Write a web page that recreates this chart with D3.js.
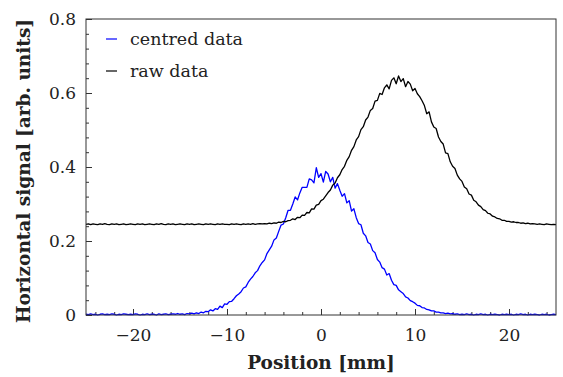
<!DOCTYPE html>
<html>
<head>
<meta charset="utf-8">
<script src="https://cdn.jsdelivr.net/npm/d3@7"></script>
<style>
  body { margin: 0; background: #fff; }
  svg { display: block; }
  .tick text { font-family: "DejaVu Serif", serif; font-size: 17px; fill: #222; }
  .tick line { stroke: #333; }
</style>
</head>
<body>
<div id="chart"></div>
<script>
// positions along the scan, every 0.25 mm
var positions = d3.range(-25, 25.001, 0.25);

// centred data (blue)
var centredSignal = [
  0.002,0.001,0.003,0.001,0.002,0.000,0.002,0.003,0.001,0.002,0.001,0.003,0.002,0.000,0.002,0.001,0.003,0.002,0.001,0.002,
  0.001,0.003,0.002,0.000,0.002,0.001,0.003,0.001,0.002,0.002,0.000,0.003,0.001,0.002,0.003,0.001,0.002,0.003,0.002,0.004,
  0.002,0.003,0.001,0.004,0.003,0.005,0.003,0.006,0.004,0.008,0.006,0.010,0.009,0.014,0.011,0.017,0.015,0.024,0.020,0.030,
  0.029,0.036,0.037,0.044,0.052,0.057,0.063,0.073,0.076,0.088,0.097,0.104,0.114,0.120,0.133,0.142,0.149,0.166,0.176,0.186,
  0.203,0.208,0.226,0.243,0.246,0.263,0.283,0.283,0.300,0.319,0.311,0.330,0.345,0.345,0.345,0.368,0.365,0.357,0.398,0.372,
  0.382,0.359,0.388,0.381,0.360,0.372,0.343,0.355,0.337,0.321,0.328,0.303,0.309,0.281,0.287,0.263,0.247,0.244,0.221,0.214,
  0.196,0.192,0.174,0.168,0.150,0.143,0.128,0.124,0.108,0.112,0.094,0.082,0.080,0.068,0.063,0.058,0.049,0.046,0.039,0.036,
  0.032,0.026,0.025,0.020,0.019,0.015,0.014,0.011,0.011,0.008,0.008,0.006,0.006,0.004,0.005,0.003,0.004,0.002,0.003,0.001,
  0.002,0.001,0.003,0.001,0.002,0.000,0.002,0.001,0.003,0.001,0.002,0.000,0.002,0.001,0.002,0.001,0.000,0.002,0.001,0.002,
  0.001,0.002,0.000,0.002,0.001,0.003,0.001,0.002,0.000,0.002,0.001,0.002,0.001,0.000,0.002,0.001,0.002,0.000,0.001,0.002,0.001
];

// raw data (black)
var rawSignal = [
  0.245,0.246,0.244,0.246,0.245,0.244,0.246,0.245,0.247,0.245,0.244,0.246,0.245,0.246,0.244,0.245,0.246,0.244,0.245,0.246,
  0.245,0.244,0.246,0.245,0.246,0.244,0.245,0.246,0.245,0.244,0.246,0.245,0.247,0.245,0.244,0.246,0.245,0.246,0.244,0.245,
  0.246,0.245,0.244,0.246,0.245,0.246,0.244,0.245,0.246,0.245,0.244,0.246,0.245,0.246,0.245,0.244,0.246,0.245,0.246,0.245,
  0.245,0.244,0.246,0.245,0.246,0.245,0.244,0.246,0.245,0.246,0.245,0.247,0.245,0.246,0.247,0.246,0.247,0.246,0.248,0.247,
  0.249,0.248,0.251,0.250,0.253,0.252,0.255,0.256,0.260,0.258,0.264,0.263,0.270,0.269,0.277,0.276,0.287,0.286,0.297,0.299,
  0.309,0.313,0.322,0.331,0.338,0.351,0.357,0.371,0.379,0.393,0.402,0.418,0.428,0.445,0.455,0.473,0.482,0.501,0.509,0.527,
  0.535,0.553,0.558,0.578,0.580,0.599,0.596,0.614,0.622,0.611,0.634,0.641,0.625,0.646,0.631,0.639,0.617,0.631,0.624,0.606,
  0.612,0.598,0.590,0.579,0.566,0.544,0.549,0.522,0.508,0.504,0.481,0.469,0.462,0.438,0.436,0.414,0.402,0.396,0.378,0.368,
  0.361,0.346,0.341,0.327,0.324,0.310,0.306,0.297,0.293,0.285,0.282,0.275,0.273,0.267,0.265,0.261,0.260,0.256,0.256,0.253,
  0.253,0.251,0.252,0.250,0.250,0.248,0.249,0.247,0.248,0.246,0.247,0.246,0.245,0.246,0.245,0.244,0.246,0.245,0.244,0.245,0.244
];

var seriesNames = ['centred data', 'raw data'];
var seriesColors = ['#0000ff', '#000000'];
var xTicks = [-20, -10, 0, 10, 20];
var yTicks = [0, 0.2, 0.4, 0.6, 0.8];

var svgWidth = 563, svgHeight = 377;
var margin = {top: 19, right: 7, bottom: 62, left: 86};
var width = svgWidth - margin.left - margin.right;
var height = svgHeight - margin.top - margin.bottom;

var svg = d3.select('#chart').append('svg')
    .attr('width', svgWidth).attr('height', svgHeight);

var g = svg.append('g')
    .attr('transform', 'translate(' + margin.left + ',' + margin.top + ')');

var x = d3.scaleLinear().domain([-25, 25]).range([0, width]);
var y = d3.scaleLinear().domain([0, 0.8]).range([height, 0]);

// minor ticks
g.append('g')
    .attr('transform', 'translate(0,' + height + ')')
    .call(d3.axisBottom(x).tickValues(d3.range(-24, 25, 2)).tickSize(-3).tickFormat(''))
    .call(function(a) { a.select('.domain').remove(); });
g.append('g')
    .call(d3.axisLeft(y).tickValues(d3.range(0, 0.801, 0.04)).tickSize(-3).tickFormat(''))
    .call(function(a) { a.select('.domain').remove(); });

// major ticks
g.append('g')
    .attr('transform', 'translate(0,' + height + ')')
    .call(d3.axisBottom(x).tickValues(xTicks).tickSize(-6).tickPadding(14))
    .call(function(a) { a.select('.domain').remove(); });
g.append('g')
    .call(d3.axisLeft(y).tickValues(yTicks).tickSize(-6).tickPadding(10)
        .tickFormat(function(d) { return d === 0 ? '0' : d3.format('.1f')(d); }))
    .call(function(a) { a.select('.domain').remove(); });

// lines
var data = [centredSignal, rawSignal];
var line = d3.line()
    .x(function(d, i) { return x(positions[i]); })
    .y(function(d) { return y(d); });

g.selectAll('.series')
    .data(data)
    .enter().append('path')
    .attr('class', 'series')
    .attr('fill', 'none')
    .attr('stroke', function(d, i) { return seriesColors[i]; })
    .attr('stroke-width', 1.3)
    .attr('stroke-linejoin', 'round')
    .attr('d', line);

// frame
g.append('rect')
    .attr('width', width).attr('height', height)
    .attr('fill', 'none').attr('stroke', '#333').attr('stroke-width', 1);

// legend
var legend = g.selectAll('.legend')
    .data(seriesNames)
    .enter().append('g')
    .attr('class', 'legend')
    .attr('transform', function(d, i) { return 'translate(20,' + (20 + i * 32) + ')'; });
legend.append('line')
    .attr('x1', 0).attr('x2', 11)
    .attr('stroke', function(d, i) { return seriesColors[i]; })
    .attr('stroke-width', 1.2);
legend.append('text')
    .attr('x', 24).attr('dy', '0.32em')
    .style('font-family', '"DejaVu Serif", serif').style('font-size', '17.5px')
    .attr('fill', '#222')
    .text(function(d) { return d; });

// axis titles
svg.append('text')
    .attr('x', margin.left + width / 2).attr('y', 369)
    .attr('text-anchor', 'middle')
    .style('font-family', '"DejaVu Serif", serif').style('font-size', '18.5px').style('font-weight', 'bold')
    .attr('fill', '#222')
    .text('Position [mm]');

svg.append('text')
    .attr('transform', 'translate(24,' + (margin.top + height / 2 + 4) + ') rotate(-90)')
    .attr('text-anchor', 'middle').attr('dy', '0.35em')
    .style('font-family', '"DejaVu Serif", serif').style('font-size', '18.5px').style('font-weight', 'bold')
    .attr('fill', '#222')
    .text('Horizontal signal [arb. units]');
</script>
</body>
</html>
